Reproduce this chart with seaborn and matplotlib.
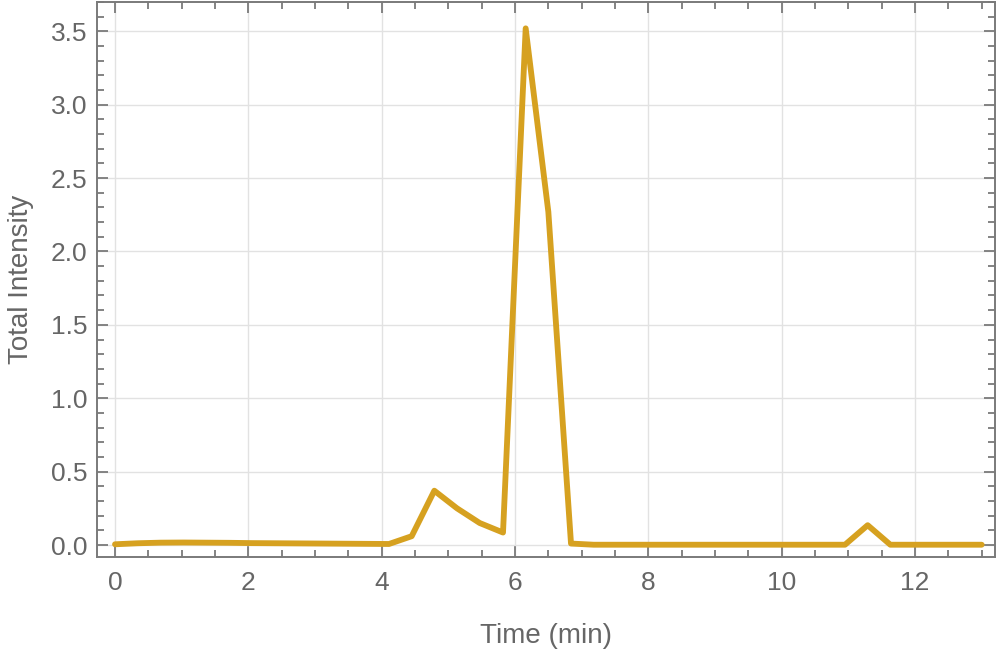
import numpy as np
import pandas as pd
import matplotlib
matplotlib.use("Agg")
import matplotlib.pyplot as plt
from matplotlib.ticker import MultipleLocator, FormatStrFormatter
import seaborn as sns

# ── Data ─────────────────────────────────────────────────────────────────────
time_min = [0.00, 0.34, 0.68, 1.03, 1.37, 1.71, 2.05, 2.39, 2.74, 3.08,
            3.42, 3.76, 4.11, 4.45, 4.79, 5.13, 5.47, 5.82, 6.16, 6.50,
            6.84, 7.18, 7.53, 7.87, 8.21, 8.55, 8.89, 9.24, 9.58, 9.92,
            10.26, 10.61, 10.95, 11.29, 11.63, 11.97, 12.32, 12.66, 13.00]
intensity = [0.005, 0.012, 0.016, 0.017, 0.016, 0.015, 0.013, 0.012, 0.011, 0.010,
             0.009, 0.008, 0.007, 0.060, 0.370, 0.250, 0.150, 0.085, 3.520, 2.270,
             0.010, 0.002, 0.002, 0.002, 0.002, 0.002, 0.002, 0.002, 0.002, 0.002,
             0.002, 0.002, 0.002, 0.135, 0.002, 0.002, 0.002, 0.002, 0.002]

LINE_COLOR = "#D6A120"
FRAME = "#7a7a7a"
TEXT = "#666666"

sns.set_theme(style="whitegrid")
plt.rcParams["font.family"] = ["Liberation Sans", "DejaVu Sans"]

df = pd.DataFrame({"Time (min)": time_min, "Total Intensity": intensity})

fig = plt.figure(figsize=(9.97, 6.5), dpi=100)
ax = fig.add_axes([0.0973, 0.143, 0.9007, 0.854])

sns.lineplot(data=df, x="Time (min)", y="Total Intensity", ax=ax,
             color=LINE_COLOR, linewidth=4.2)

ax.set_xlim(-0.27, 13.2)
ax.set_ylim(-0.082, 3.70)
ax.xaxis.set_major_locator(MultipleLocator(2))
ax.xaxis.set_minor_locator(MultipleLocator(0.5))
ax.yaxis.set_major_locator(MultipleLocator(0.5))
ax.yaxis.set_minor_locator(MultipleLocator(0.1))
ax.yaxis.set_major_formatter(FormatStrFormatter("%.1f"))

ax.grid(which="major", color="#e2e2e2", linewidth=1.0)
ax.grid(which="minor", visible=False)

for s in ax.spines.values():
    s.set_visible(True)
    s.set_color(FRAME)
    s.set_linewidth(1.4)

ax.tick_params(which="both", direction="in", top=True, right=True,
               bottom=True, left=True, color=FRAME, width=1.3)
ax.tick_params(which="major", length=8)
ax.tick_params(which="minor", length=5)
ax.tick_params(axis="x", which="major", labelsize=19, labelcolor=TEXT, pad=10)
ax.tick_params(axis="y", which="major", labelsize=19, labelcolor=TEXT, pad=7)

ax.set_xlabel("Time (min)", fontsize=20, color=TEXT, labelpad=20)
ax.set_ylabel("Total Intensity", fontsize=20, color=TEXT, labelpad=12)

fig.savefig("out.png", dpi=100)
